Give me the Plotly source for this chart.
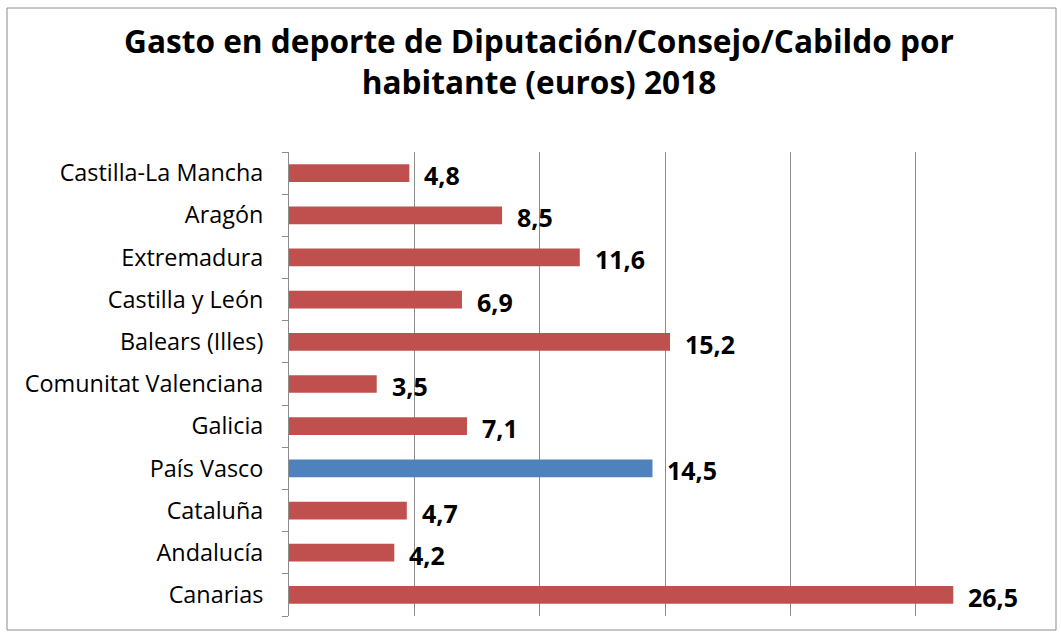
import plotly.graph_objects as go

# Regions (top to bottom) and spending per inhabitant in euros
regiones = ["Castilla-La Mancha", "Aragón", "Extremadura", "Castilla y León",
            "Balears (Illes)", "Comunitat Valenciana", "Galicia", "País Vasco",
            "Cataluña", "Andalucía", "Canarias"]
gasto = [4.8, 8.5, 11.6, 6.9, 15.2, 3.5, 7.1, 14.5, 4.7, 4.2, 26.5]
destacada = "País Vasco"

ROJO = "#C0504D"
AZUL = "#4F81BD"
FONT = "Open Sans"

colores = [AZUL if r == destacada else ROJO for r in regiones]

fig = go.Figure()
fig.add_trace(go.Bar(
    x=gasto, y=regiones, orientation="h",
    marker=dict(color=colores, line=dict(width=0)),
    width=0.42, hoverinfo="skip",
))

# value labels with decimal comma, placed to the right of each bar
for r, v in zip(regiones, gasto):
    fig.add_annotation(
        x=v, y=r, xref="x", yref="y",
        text="<b>" + f"{v:.1f}".replace(".", ",") + "</b>",
        showarrow=False, xanchor="left", yanchor="middle",
        xshift=13, yshift=-2,
        font=dict(family=FONT, size=25, color="black"),
    )

W, H = 1061, 642
L, R, T, B = 289, 20, 152, 26

fig.update_layout(
    width=W, height=H,
    margin=dict(l=L, r=R, t=T, b=B),
    paper_bgcolor="white", plot_bgcolor="white",
    showlegend=False,
    title=dict(
        text="<b>Gasto en deporte de Diputación/Consejo/Cabildo por<br>habitante (euros) 2018</b>",
        x=539 / W, xref="container", xanchor="center",
        y=1 - 53 / H, yref="container", yanchor="middle",
        font=dict(family=FONT, size=31.6, color="black"),
    ),
    xaxis=dict(
        range=[0, 30], dtick=5, showticklabels=False,
        showgrid=True, gridcolor="#8C8C8C", gridwidth=1,
        zeroline=False, showline=False, ticks="",
        fixedrange=True,
    ),
    yaxis=dict(
        categoryorder="array", categoryarray=regiones[::-1],
        autorange=False, range=[-0.5, len(regiones) - 0.5],
        tickson="boundaries", ticks="outside", ticklen=6,
        tickcolor="#8C8C8C", showline=True, linecolor="#8C8C8C", linewidth=1,
        tickfont=dict(family=FONT, size=23.4, color="black"),
        ticklabelstandoff=20, showgrid=False,
    ),
    shapes=[dict(
        type="rect", xref="paper", yref="paper",
        x0=(7 - L) / (W - L - R), x1=(W - 5 - L) / (W - L - R),
        y0=(B - 40) / (H - T - B), y1=(H - 8 - B) / (H - T - B),
        line=dict(color="#8C8C8C", width=1), fillcolor="rgba(0,0,0,0)",
        layer="below",
    )],
)

fig.write_html("out.html")
